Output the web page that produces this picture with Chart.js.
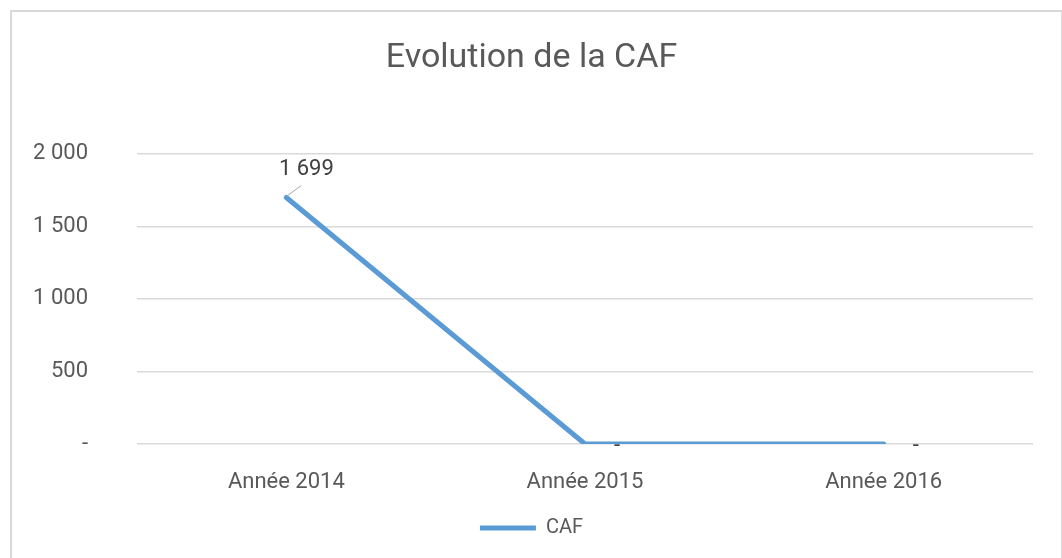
<!DOCTYPE html>
<html>
<head>
<meta charset="utf-8">
<script src="https://cdn.jsdelivr.net/npm/chart.js@4.4.0/dist/chart.umd.min.js"></script>
<style>
  html, body { margin: 0; padding: 0; background: #fff; overflow: hidden; }
  #frame { position: absolute; left: 10px; top: 10px; width: 1049px; height: 600px; border: 2px solid #d9d9d9; }
  #wrap { position: absolute; left: 0; top: 0; width: 1062px; height: 558px; }
</style>
</head>
<body>
<div id="frame"></div>
<div id="wrap"><canvas id="cafChart" width="1062" height="558"></canvas></div>
<script>
const categories = ['Année 2014', 'Année 2015', 'Année 2016'];
const cafValues = [1699, 0, 0];
const yTicks = [0, 500, 1000, 1500, 2000];

const narrowFont = '"Liberation Sans Narrow", Roboto, sans-serif';

// accounting style: thousands with a space, zero shown as a dash
function fmt(v) {
    if (v === 0) return '-';
    return String(Math.round(v)).replace(/\B(?=(\d{3})+(?!\d))/g, ' ');
}

const labelPlugin = {
    id: 'cafLabels',
    afterDatasetsDraw(chart) {
        const ctx = chart.ctx;
        const meta = chart.getDatasetMeta(0);
        ctx.save();
        ctx.font = '22px Roboto';
        ctx.fillStyle = '#404040';
        ctx.textAlign = 'center';
        ctx.textBaseline = 'middle';
        meta.data.forEach((pt, i) => {
            const v = cafValues[i];
            if (v === 0) {
                ctx.fillText(fmt(v), pt.x + 32, pt.y + 2);
            } else {
                ctx.strokeStyle = '#a6a6a6';
                ctx.lineWidth = 1;
                ctx.beginPath();
                ctx.moveTo(pt.x, pt.y - 1);
                ctx.lineTo(pt.x + 15, pt.y - 12);
                ctx.stroke();
                ctx.fillText(fmt(v), pt.x + 20, pt.y - 28);
            }
        });
        ctx.restore();
    }
};

const ctx = document.getElementById('cafChart').getContext('2d');
new Chart(ctx, {
    type: 'line',
    data: {
        labels: categories,
        datasets: [{
            label: 'CAF',
            data: cafValues,
            borderColor: '#5b9bd5',
            backgroundColor: '#5b9bd5',
            borderWidth: 5,
            pointRadius: 0,
            borderCapStyle: 'round',
            borderJoinStyle: 'round',
            tension: 0
        }]
    },
    options: {
        responsive: false,
        animation: false,
        layout: { padding: { left: 30, right: 29, top: 0, bottom: 10 } },
        plugins: {
            title: {
                display: true,
                text: 'Evolution de la CAF',
                color: '#595959',
                font: { family: narrowFont, size: 34, weight: 'normal' },
                padding: { top: 38, bottom: 75 }
            },
            legend: {
                position: 'bottom',
                labels: {
                    usePointStyle: true,
                    pointStyle: 'line',
                    pointStyleWidth: 56,
                    color: '#595959',
                    font: { family: narrowFont, size: 20 },
                    padding: 10
                }
            },
            tooltip: { enabled: false }
        },
        scales: {
            x: {
                offset: true,
                grid: { display: false },
                border: { display: false },
                ticks: { color: '#595959', font: { family: 'Roboto', size: 22 }, padding: 17 },
                afterFit(s) { s.height = 64; }
            },
            y: {
                min: 0,
                max: 2000,
                grid: { color: '#d9d9d9', lineWidth: 1.5, drawTicks: false },
                border: { display: false },
                ticks: { color: '#595959', font: { family: 'Roboto', size: 22 }, padding: 49, callback: v => fmt(v) },
                afterBuildTicks(s) { s.ticks = yTicks.map(v => ({ value: v })); },
                afterFit(s) { s.width = 107; }
            }
        }
    },
    plugins: [labelPlugin]
});
</script>
</body>
</html>
